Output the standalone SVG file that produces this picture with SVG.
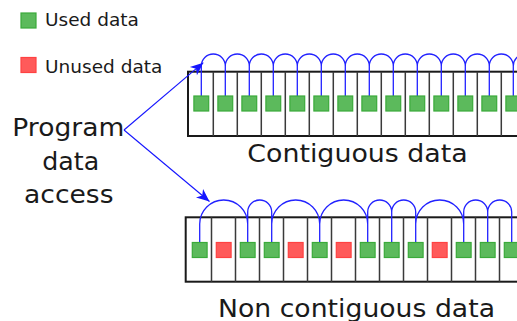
<svg xmlns="http://www.w3.org/2000/svg" width="517" height="321" viewBox="0 0 517 321">
  <style>
    text { font-family: "DejaVu Sans", "Liberation Sans", sans-serif; fill: #1a1a1a; }
    .legend { font-size: 18.5px; }
    .big { font-size: 25.5px; }
    .frame { fill: #ffffff; stroke: #1a1a1a; stroke-width: 2; }
    .div { stroke: #3a3a3a; stroke-width: 1.5; fill: none; }
    .used { fill: #5cba5c; stroke: #3aaa3a; stroke-width: 1.2; }
    .unused { fill: #ff5a5a; stroke: #ff4242; stroke-width: 1.2; }
    .hop { fill: none; stroke: #2222ff; stroke-width: 1.3; }
    .ptr { fill: none; stroke: #1515ff; stroke-width: 1.1; }
  </style>
  <defs>
    <marker id="head" markerUnits="userSpaceOnUse" markerWidth="16" markerHeight="14" viewBox="-14 -7 16 14" refX="0" refY="0" orient="auto">
      <path d="M0,0 L-13,-5.5 L-9.5,0 L-13,5.5 Z" fill="#1515ff"/>
    </marker>
  </defs>

  <!-- legend -->
  <g id="legend-used">
    <rect class="used" x="21" y="13" width="15" height="15"/>
    <text class="legend" x="45" y="26">Used data</text>
  </g>
  <g id="legend-unused">
    <rect class="unused" x="21" y="57.5" width="15" height="15"/>
    <text class="legend" x="45" y="72.5">Unused data</text>
  </g>

  <!-- program label -->
  <g id="program">
    <text class="big" text-anchor="middle" x="68.3" y="136" textLength="112" lengthAdjust="spacingAndGlyphs">Program</text>
    <text class="big" text-anchor="middle" x="70.8" y="169.5" textLength="57" lengthAdjust="spacingAndGlyphs">data</text>
    <text class="big" text-anchor="middle" x="68.8" y="202.5" textLength="89.5" lengthAdjust="spacingAndGlyphs">access</text>
  </g>

  <!-- contiguous memory block -->
  <g id="contiguous">
    <rect class="frame" x="188" y="71.7" width="340" height="64.3"/>
    <path class="div" d="M213.3,71.7V136 M237.3,71.7V136 M261.3,71.7V136 M285.3,71.7V136 M309.3,71.7V136 M333.3,71.7V136 M357.3,71.7V136 M381.3,71.7V136 M405.3,71.7V136 M429.3,71.7V136 M453.3,71.7V136 M477.3,71.7V136 M501.3,71.7V136"/>
    <path class="hop" d="M201.3,96V66A12,12 0 0 1 225.3,66V96 M225.3,96V66A12,12 0 0 1 249.3,66V96 M249.3,96V66A12,12 0 0 1 273.3,66V96 M273.3,96V66A12,12 0 0 1 297.3,66V96 M297.3,96V66A12,12 0 0 1 321.3,66V96 M321.3,96V66A12,12 0 0 1 345.3,66V96 M345.3,96V66A12,12 0 0 1 369.3,66V96 M369.3,96V66A12,12 0 0 1 393.3,66V96 M393.3,96V66A12,12 0 0 1 417.3,66V96 M417.3,96V66A12,12 0 0 1 441.3,66V96 M441.3,96V66A12,12 0 0 1 465.3,66V96 M465.3,96V66A12,12 0 0 1 489.3,66V96 M489.3,96V66A12,12 0 0 1 513.3,66V96 M513.3,96V66A12,12 0 0 1 537.3,66V96"/>
    <rect class="used" x="193.9" y="96" width="14.8" height="15"/>
    <rect class="used" x="217.9" y="96" width="14.8" height="15"/>
    <rect class="used" x="241.9" y="96" width="14.8" height="15"/>
    <rect class="used" x="265.9" y="96" width="14.8" height="15"/>
    <rect class="used" x="289.9" y="96" width="14.8" height="15"/>
    <rect class="used" x="313.9" y="96" width="14.8" height="15"/>
    <rect class="used" x="337.9" y="96" width="14.8" height="15"/>
    <rect class="used" x="361.9" y="96" width="14.8" height="15"/>
    <rect class="used" x="385.9" y="96" width="14.8" height="15"/>
    <rect class="used" x="409.9" y="96" width="14.8" height="15"/>
    <rect class="used" x="433.9" y="96" width="14.8" height="15"/>
    <rect class="used" x="457.9" y="96" width="14.8" height="15"/>
    <rect class="used" x="481.9" y="96" width="14.8" height="15"/>
    <rect class="used" x="505.9" y="96" width="14.8" height="15"/>
    <text class="big" text-anchor="middle" x="357.5" y="162" textLength="220.5" lengthAdjust="spacingAndGlyphs">Contiguous data</text>
  </g>

  <!-- non contiguous memory block -->
  <g id="non-contiguous">
    <rect class="frame" x="185.7" y="217.3" width="340" height="64.4"/>
    <path class="div" d="M211.5,217.3V281.7 M235.5,217.3V281.7 M259.5,217.3V281.7 M283.5,217.3V281.7 M307.5,217.3V281.7 M331.5,217.3V281.7 M355.5,217.3V281.7 M379.5,217.3V281.7 M403.5,217.3V281.7 M427.5,217.3V281.7 M451.5,217.3V281.7 M475.5,217.3V281.7 M499.5,217.3V281.7"/>
    <path class="hop" d="M199.7,242.5V224A24,24 0 0 1 247.7,224V242.5 M247.7,242.5V212A12,12 0 0 1 271.7,212V242.5 M271.7,242.5V224A24,24 0 0 1 319.7,224V242.5 M319.7,242.5V224A24,24 0 0 1 367.7,224V242.5 M367.7,242.5V212A12,12 0 0 1 391.7,212V242.5 M391.7,242.5V212A12,12 0 0 1 415.7,212V242.5 M415.7,242.5V224A24,24 0 0 1 463.7,224V242.5 M463.7,242.5V212A12,12 0 0 1 487.7,212V242.5 M487.7,242.5V212A12,12 0 0 1 511.7,212V242.5"/>
    <rect class="used" x="192.3" y="242.5" width="14.8" height="15"/>
    <rect class="unused" x="216.3" y="242.5" width="14.8" height="15"/>
    <rect class="used" x="240.3" y="242.5" width="14.8" height="15"/>
    <rect class="used" x="264.3" y="242.5" width="14.8" height="15"/>
    <rect class="unused" x="288.3" y="242.5" width="14.8" height="15"/>
    <rect class="used" x="312.3" y="242.5" width="14.8" height="15"/>
    <rect class="unused" x="336.3" y="242.5" width="14.8" height="15"/>
    <rect class="used" x="360.3" y="242.5" width="14.8" height="15"/>
    <rect class="used" x="384.3" y="242.5" width="14.8" height="15"/>
    <rect class="used" x="408.3" y="242.5" width="14.8" height="15"/>
    <rect class="unused" x="432.3" y="242.5" width="14.8" height="15"/>
    <rect class="used" x="456.3" y="242.5" width="14.8" height="15"/>
    <rect class="used" x="480.3" y="242.5" width="14.8" height="15"/>
    <rect class="used" x="504.3" y="242.5" width="14.8" height="15"/>
    <text class="big" text-anchor="middle" x="356.5" y="316.5" textLength="277" lengthAdjust="spacingAndGlyphs">Non contiguous data</text>
  </g>

  <!-- access pointers -->
  <g id="connectors">
    <path class="ptr" d="M124,130 L203.3,62.7" marker-end="url(#head)"/>
    <path class="ptr" d="M124,130 L209.5,201.5" marker-end="url(#head)"/>
  </g>
</svg>
